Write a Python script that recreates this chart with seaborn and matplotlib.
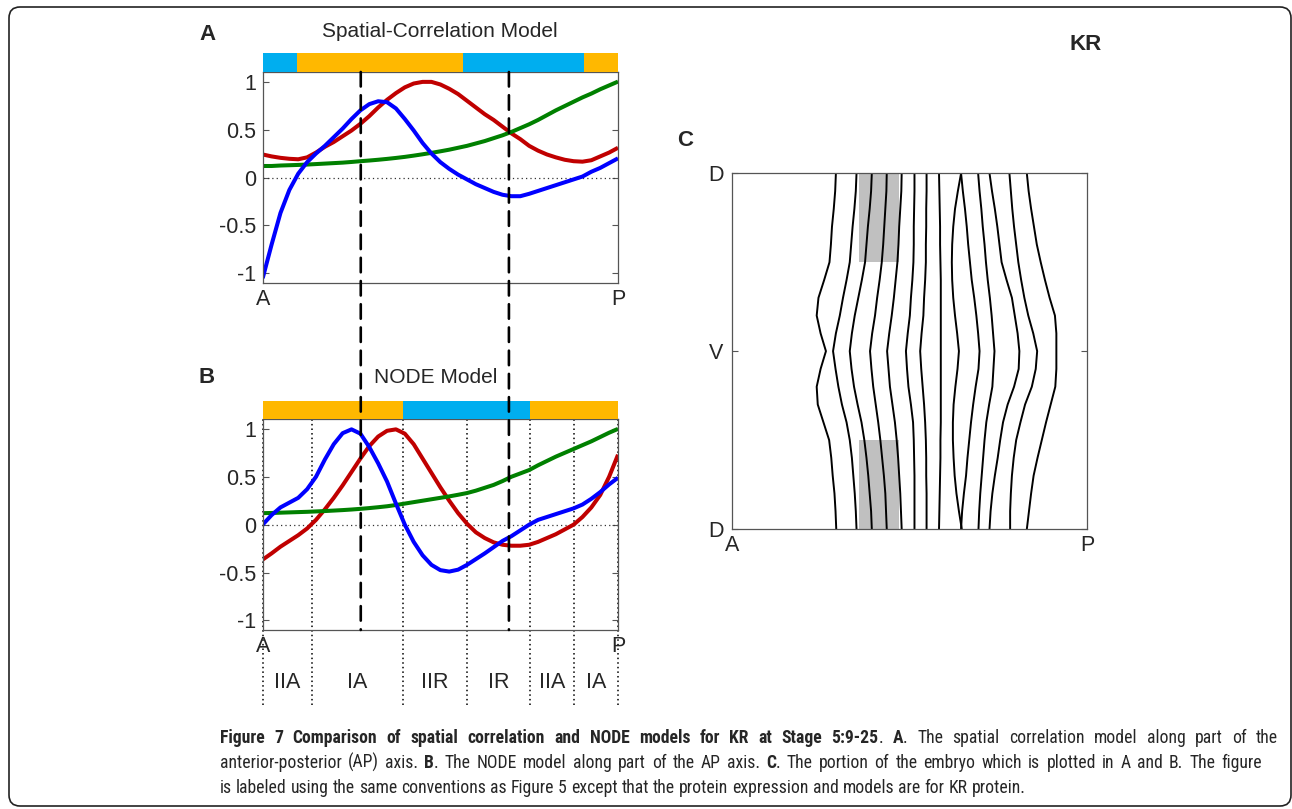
import numpy as np
import pandas as pd
import seaborn as sns
import matplotlib
matplotlib.use("Agg")
import matplotlib.pyplot as plt
from matplotlib.patches import ConnectionPatch, FancyBboxPatch
from matplotlib import font_manager as fm

# ---------------- data ----------------
ap_pos = [0.000, 0.025, 0.050, 0.075, 0.100, 0.125, 0.150, 0.175, 0.200, 0.225,
          0.250, 0.275, 0.300, 0.325, 0.350, 0.375, 0.400, 0.425, 0.450, 0.475,
          0.500, 0.525, 0.550, 0.575, 0.600, 0.625, 0.650, 0.675, 0.700, 0.725,
          0.750, 0.775, 0.800, 0.825, 0.850, 0.875, 0.900, 0.925, 0.950, 0.975, 1.000]

a_red = [0.24, 0.22, 0.205, 0.195, 0.19, 0.21, 0.26, 0.32, 0.37, 0.43,
         0.49, 0.56, 0.64, 0.73, 0.81, 0.88, 0.94, 0.98, 0.997, 0.997,
         0.97, 0.925, 0.87, 0.80, 0.73, 0.66, 0.60, 0.53, 0.46, 0.40,
         0.33, 0.28, 0.24, 0.21, 0.185, 0.17, 0.165, 0.18, 0.22, 0.26, 0.31]
a_blue = [-1.05, -0.70, -0.37, -0.13, 0.04, 0.16, 0.25, 0.33, 0.42, 0.51,
          0.61, 0.70, 0.765, 0.795, 0.785, 0.72, 0.61, 0.49, 0.36, 0.25,
          0.16, 0.09, 0.03, -0.02, -0.07, -0.11, -0.15, -0.18, -0.195, -0.195,
          -0.17, -0.14, -0.11, -0.08, -0.05, -0.02, 0.01, 0.06, 0.10, 0.15, 0.20]
a_green = [0.12, 0.12, 0.125, 0.128, 0.131, 0.135, 0.14, 0.145, 0.15, 0.155,
           0.162, 0.17, 0.177, 0.185, 0.194, 0.204, 0.215, 0.228, 0.242, 0.257,
           0.273, 0.29, 0.31, 0.33, 0.355, 0.38, 0.41, 0.44, 0.475, 0.515,
           0.555, 0.60, 0.65, 0.70, 0.745, 0.79, 0.835, 0.875, 0.92, 0.96, 1.00]

b_red = [-0.365, -0.30, -0.23, -0.17, -0.11, -0.04, 0.05, 0.16, 0.28, 0.41,
         0.55, 0.69, 0.82, 0.92, 0.98, 0.995, 0.95, 0.84, 0.69, 0.54,
         0.39, 0.25, 0.12, 0.01, -0.08, -0.14, -0.185, -0.21, -0.22, -0.22,
         -0.21, -0.18, -0.14, -0.10, -0.05, 0.00, 0.08, 0.18, 0.31, 0.50, 0.73]
b_blue = [0.00, 0.10, 0.18, 0.23, 0.28, 0.37, 0.50, 0.68, 0.84, 0.955,
          0.995, 0.95, 0.81, 0.64, 0.45, 0.22, 0.00, -0.18, -0.32, -0.42,
          -0.475, -0.49, -0.47, -0.42, -0.36, -0.30, -0.235, -0.17, -0.12, -0.06,
          0.00, 0.05, 0.08, 0.11, 0.14, 0.17, 0.21, 0.27, 0.34, 0.42, 0.49]
b_green = [0.12, 0.122, 0.125, 0.128, 0.131, 0.134, 0.138, 0.142, 0.147, 0.152,
           0.158, 0.165, 0.173, 0.182, 0.192, 0.205, 0.22, 0.235, 0.25, 0.265,
           0.28, 0.295, 0.312, 0.33, 0.355, 0.385, 0.415, 0.455, 0.50, 0.535,
           0.57, 0.62, 0.665, 0.71, 0.75, 0.79, 0.83, 0.87, 0.915, 0.96, 1.00]

series_names = ["red", "green", "blue"]
series_colors = {"red": "#C00000", "green": "#008000", "blue": "#0000FF"}

# state bars above each panel (segment boundaries along AP, state of each segment)
a_bar_bounds = [0.0, 0.096, 0.563, 0.904, 1.0]
a_bar_states = ["R", "A", "R", "A"]
b_bar_bounds = [0.0, 0.394, 0.753, 1.0]
b_bar_states = ["A", "R", "A"]
state_colors = {"A": "#FFB800", "R": "#00AEEF"}

dashed_pos = [0.276, 0.693]
region_bounds = [0.0, 0.138, 0.394, 0.576, 0.753, 0.876, 1.0]
region_labels = ["IIA", "IA", "IIR", "IR", "IIA", "IA"]

ytick_vals = [-1, -0.5, 0, 0.5, 1]
ytick_text = ["-1", "-0.5", "0", "0.5", "1"]

# Panel C: expression boundary contours (AP position in % at each DV level)
dv_pos = [0.00, 0.05, 0.10, 0.15, 0.20, 0.25, 0.30, 0.35, 0.40, 0.45, 0.50,
          0.55, 0.60, 0.65, 0.70, 0.75, 0.80, 0.85, 0.90, 0.95, 1.00]
contours = [
    [29.3, 29.1, 28.7, 28.2, 27.9, 27.5, 26.0, 24.4, 23.9, 25.0, 26.5, 25.0, 23.9, 24.2, 25.8, 27.4, 28.0, 28.4, 28.9, 29.2, 29.4],
    [35.1, 34.9, 34.5, 34.0, 33.6, 33.2, 32.3, 31.3, 30.4, 29.3, 28.5, 29.2, 30.0, 31.0, 32.3, 33.2, 33.8, 34.2, 34.6, 34.9, 35.1],
    [39.4, 39.2, 38.8, 38.3, 37.9, 37.5, 36.6, 35.6, 34.6, 33.8, 33.2, 33.7, 34.4, 35.4, 36.5, 37.3, 37.9, 38.4, 38.8, 39.2, 39.4],
    [43.6, 43.5, 43.2, 42.9, 42.6, 42.2, 41.6, 40.9, 40.3, 39.5, 38.9, 39.3, 39.8, 40.5, 41.2, 41.8, 42.3, 42.8, 43.2, 43.4, 43.6],
    [47.8, 47.7, 47.4, 47.1, 46.9, 46.6, 46.1, 45.6, 45.0, 44.3, 43.7, 44.1, 44.5, 45.2, 45.9, 46.4, 46.8, 47.1, 47.4, 47.6, 47.8],
    [51.4, 51.4, 51.3, 51.2, 51.2, 51.1, 50.8, 50.4, 50.1, 49.5, 49.0, 49.3, 49.7, 50.4, 51.0, 51.2, 51.3, 51.4, 51.4, 51.4, 51.4],
    [54.8, 54.8, 54.7, 54.7, 54.6, 54.6, 54.4, 54.1, 53.9, 53.4, 53.0, 53.3, 53.7, 54.1, 54.4, 54.6, 54.7, 54.7, 54.8, 54.8, 54.8],
    [58.3, 58.4, 58.5, 58.6, 58.6, 58.7, 58.8, 58.8, 58.8, 58.8, 58.8, 58.8, 58.8, 58.8, 58.8, 58.7, 58.7, 58.6, 58.5, 58.4, 58.3],
    [64.5, 63.6, 62.8, 62.3, 62.0, 61.9, 62.0, 62.3, 62.8, 63.4, 63.9, 63.5, 62.9, 62.4, 62.2, 62.2, 62.4, 62.7, 63.2, 63.9, 64.7],
    [64.5, 65.0, 65.6, 66.1, 66.5, 67.0, 67.5, 68.2, 68.8, 69.3, 69.7, 69.4, 68.6, 67.9, 67.3, 66.8, 66.3, 65.9, 65.3, 64.8, 64.5],
    [69.3, 69.7, 70.2, 70.6, 71.1, 71.5, 72.0, 72.6, 73.1, 73.5, 73.9, 73.6, 73.3, 72.4, 71.6, 71.1, 70.7, 70.3, 69.9, 69.6, 69.4],
    [72.5, 73.2, 74.0, 74.7, 75.3, 75.9, 77.3, 78.8, 79.6, 80.4, 80.9, 80.7, 79.4, 77.6, 76.3, 75.5, 74.8, 74.0, 73.3, 72.8, 72.5],
    [78.1, 78.5, 78.9, 79.4, 80.0, 80.6, 81.4, 82.3, 83.4, 84.8, 85.9, 85.5, 84.4, 82.5, 81.2, 80.0, 79.3, 78.8, 78.5, 78.3, 78.3],
    [83.0, 83.5, 84.2, 85.0, 85.8, 86.9, 88.1, 89.4, 90.9, 91.3, 91.3, 91.3, 91.0, 89.7, 88.4, 87.2, 86.0, 84.9, 84.2, 83.6, 83.0],
]
gray_ap = [35.8, 47.0]
gray_dv = [[0.0, 0.249], [0.75, 1.0]]
c_yticks = [0.0, 0.5, 1.0]
c_ylabels = ["D", "V", "D"]
c_xticks = [0, 100]
c_xlabels = ["A", "P"]

caption_lines = [
    [("Figure 7 Comparison of spatial correlation and NODE models for KR at Stage 5:9-25", True),
     (". ", False), ("A", True), (". The spatial correlation model along part of the", False)],
    [("anterior-posterior (AP) axis. ", False), ("B", True),
     (". The NODE model along part of the AP axis. ", False), ("C", True),
     (". The portion of the embryo which is plotted in A and B. The figure", False)],
    [("is labeled using the same conventions as Figure 5 except that the protein expression and models are for KR protein.", False)],
]
caption_right_px = [1278, 1262, 1016]   # where each caption line ends in the reference
caption_justified = [True, True, False]

# ---------------- style ----------------
sns.set_style("white")
plt.rcParams["font.family"] = ["Liberation Sans", "DejaVu Sans"]
plt.rcParams["axes.unicode_minus"] = False

W, H = 1292, 809
fig = plt.figure(figsize=(W / 100, H / 100), dpi=100)


def fx(px):
    return px / W


def fy(py):
    return 1 - py / H


def rect(l, t, r, b):
    return [fx(l), fy(b), fx(r) - fx(l), fy(t) - fy(b)]


YLIM = (-1.1, 1.1)
TICK_FS = 15.5
spine_col = "#555555"


def curve_panel(ax, red, green, blue):
    df = pd.DataFrame({
        "ap": ap_pos * 3,
        "corr": list(red) + list(green) + list(blue),
        "series": ["red"] * len(ap_pos) + ["green"] * len(ap_pos) + ["blue"] * len(ap_pos),
    })
    sns.lineplot(data=df, x="ap", y="corr", hue="series", hue_order=series_names,
                 palette=series_colors, linewidth=2.9, legend=False, ax=ax,
                 estimator=None, sort=False)
    for ln in ax.get_lines():
        ln.set_solid_joinstyle("round")
        ln.set_solid_capstyle("butt")
    ax.axhline(0, color="#333333", lw=0.9, linestyle=(0, (1, 2.5)), zorder=1)
    ax.set_xlim(0, 1)
    ax.set_ylim(*YLIM)
    ax.set_yticks(ytick_vals, ytick_text)
    ax.set_xticks([0, 1], ["A", "P"])
    ax.set_xlabel("")
    ax.set_ylabel("")
    ax.tick_params(axis="y", direction="in", length=4, width=0.8, left=True, right=True,
                   labelsize=TICK_FS, pad=5, color=spine_col)
    ax.tick_params(axis="x", direction="in", length=0, labelsize=TICK_FS, pad=4)
    for s in ax.spines.values():
        s.set_color(spine_col)
        s.set_linewidth(0.9)


def state_bar(ax, bounds, states):
    starts = bounds[:-1]
    widths = [bounds[i + 1] - bounds[i] for i in range(len(states))]
    ax.barh([0] * len(states), widths, left=starts, height=1.0,
            color=[state_colors[s] for s in states], edgecolor="none")
    ax.set_xlim(0, 1)
    ax.set_ylim(-0.5, 0.5)
    ax.axis("off")


# Panel A
ax_a = fig.add_axes(rect(262.7, 72, 618, 283))
bar_a = fig.add_axes(rect(262.7, 53, 618, 72))
curve_panel(ax_a, a_red, a_green, a_blue)
state_bar(bar_a, a_bar_bounds, a_bar_states)

# Panel B
ax_b = fig.add_axes(rect(262.7, 419.3, 618, 630))
bar_b = fig.add_axes(rect(262.7, 401, 618, 419.3))
curve_panel(ax_b, b_red, b_green, b_blue)
state_bar(bar_b, b_bar_bounds, b_bar_states)

# region boundaries (dotted) and labels under panel B
y_px = (YLIM[1] - YLIM[0]) / (630 - 419.3)
ax_b.vlines(region_bounds, YLIM[0] - 75 * y_px, YLIM[1], colors="black",
            linestyles=(0, (1, 2)), lw=1.1, clip_on=False, zorder=0.5)
for i, lab in enumerate(region_labels):
    mid = (region_bounds[i] + region_bounds[i + 1]) / 2
    ax_b.text(mid, YLIM[0] - 53 * y_px, lab, ha="center", va="center", fontsize=TICK_FS)

# dashed lines across A and B
for xd in dashed_pos:
    con = ConnectionPatch(xyA=(xd, YLIM[1]), coordsA=ax_a.transData,
                          xyB=(xd, YLIM[0]), coordsB=ax_b.transData,
                          color="black", lw=1.9, linestyle=(0, (5.5, 3.3)))
    fig.add_artist(con)

# titles and panel letters
fig.text(fx(440), fy(31.5), "Spatial-Correlation Model", ha="center", va="center", fontsize=15)
fig.text(fx(435.5), fy(378), "NODE Model", ha="center", va="center", fontsize=15)
fig.text(fx(207), fy(35), "A", ha="center", va="center", fontsize=16, fontweight="bold")
fig.text(fx(206.5), fy(378), "B", ha="center", va="center", fontsize=16, fontweight="bold")
fig.text(fx(685), fy(140), "C", ha="center", va="center", fontsize=16, fontweight="bold")
fig.text(fx(1086), fy(45), "KR", ha="center", va="center", fontsize=16, fontweight="bold")

# Panel C
ax_c = fig.add_axes(rect(731.7, 173.3, 1087.3, 529))
for (t0, t1) in gray_dv:
    ax_c.fill_betweenx([t0, t1], gray_ap[0], gray_ap[1], color="#C0C0C0", lw=0, zorder=1)
cdf = pd.DataFrame({
    "ap": [v for c in contours for v in c],
    "dv": dv_pos * len(contours),
    "contour": [i for i, c in enumerate(contours) for _ in c],
})
sns.lineplot(data=cdf, x="ap", y="dv", units="contour", estimator=None, sort=False,
             color="black", linewidth=1.4, ax=ax_c, zorder=2)
ax_c.set_xlim(0, 100)
ax_c.set_ylim(1, 0)
ax_c.set_yticks(c_yticks, c_ylabels)
ax_c.set_xticks(c_xticks, c_xlabels)
ax_c.set_xlabel("")
ax_c.set_ylabel("")
ax_c.tick_params(axis="y", direction="in", length=4, width=0.8, left=True, right=True,
                 labelsize=TICK_FS, pad=6, color=spine_col)
ax_c.tick_params(axis="x", direction="in", length=0, labelsize=TICK_FS, pad=4)
for s in ax_c.spines.values():
    s.set_color(spine_col)
    s.set_linewidth(0.9)

# outer rounded frame
frame = FancyBboxPatch((9, 809 - 806), 1282, 799, boxstyle="round,pad=0,rounding_size=11",
                       transform=None, fill=False, edgecolor="#222222", lw=1.2)
fig.add_artist(frame)

# ---------------- caption (mixed bold runs, justified like the original) ----------------
names = {f.name for f in fm.fontManager.ttflist}
cap_family = "Open Sans"
for cand in ["Liberation Sans Narrow", "Roboto Condensed", "Open Sans Condensed", "Roboto"]:
    if cand in names:
        cap_family = cand
        break
renderer = fig.canvas.get_renderer()


def words_of(parts):
    words = [[]]
    for txt, bold in parts:
        pieces = txt.split(" ")
        for j, p in enumerate(pieces):
            if j > 0:
                words.append([])
            if p:
                words[-1].append((p, bold))
    return [w for w in words if w]


def make_text(x_px, base_px, txt, bold, size):
    return fig.text(fx(x_px), fy(base_px), txt, fontsize=size,
                    fontweight="bold" if bold else "normal",
                    family=[cap_family, "DejaVu Sans"], ha="left", va="baseline")


def measure(txt, bold, size):
    t = make_text(0, 0, txt, bold, size)
    w = t.get_window_extent(renderer).width
    t.remove()
    return w


def space_w(bold, size):
    return measure("n n", bold, size) - measure("nn", bold, size)


def natural_width(parts, size):
    ws = words_of(parts)
    total = sum(measure(s, b, size) for w in ws for (s, b) in w)
    total += space_w(False, size) * (len(ws) - 1)
    return total


def draw_caption_line(parts, x0, base, size, right=None):
    ws = words_of(parts)
    widths = [[measure(s, b, size) for (s, b) in w] for w in ws]
    word_tot = sum(sum(w) for w in widths)
    if right is not None and len(ws) > 1:
        gap = (right - x0 - word_tot) / (len(ws) - 1)
    else:
        gap = space_w(False, size)
    x = x0
    for w, wid in zip(ws, widths):
        for (s, b), ww in zip(w, wid):
            make_text(x, base, s, b, size)
            x += ww
        x += gap


# the last (unjustified) line fixes the type size
last = len(caption_lines) - 1
cap_size = 10 * (caption_right_px[last] - 220) / natural_width(caption_lines[last], 10)
for i, parts in enumerate(caption_lines):
    draw_caption_line(parts, 220, 743 + 25 * i, cap_size,
                      right=caption_right_px[i] if caption_justified[i] else None)

fig.savefig("out.png", dpi=100)
